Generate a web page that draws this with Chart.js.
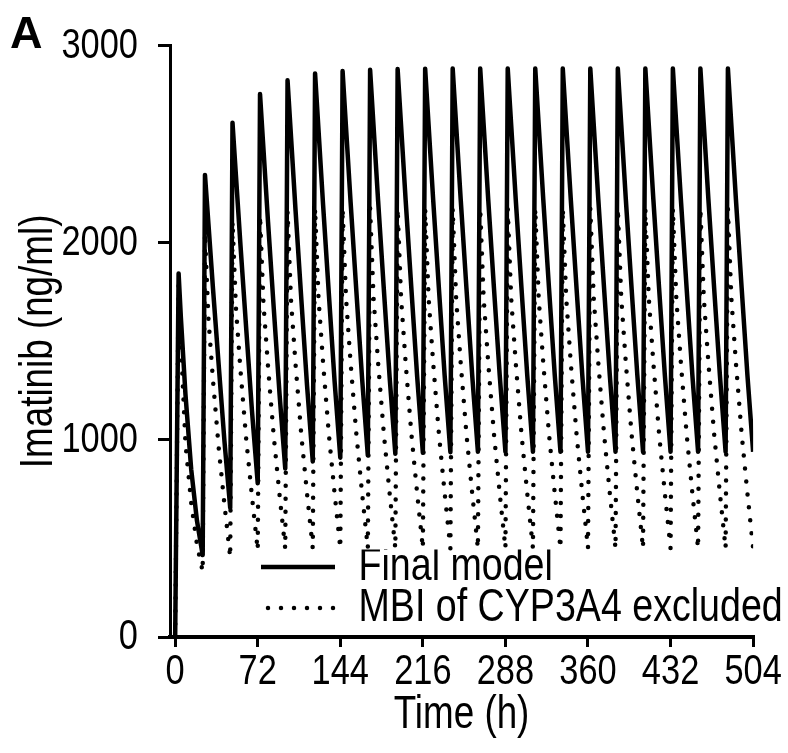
<!DOCTYPE html>
<html>
<head>
<meta charset="utf-8">
<script src="https://cdn.jsdelivr.net/npm/chart.js@4/dist/chart.umd.min.js"></script>
<style>
  html, body { margin: 0; padding: 0; background: #fff; }
  #wrap { width: 788px; height: 753px; position: relative; }
</style>
</head>
<body>
<div id="wrap"><canvas id="c" width="788" height="753"></canvas></div>
<script>
// ---- data ----
const panelLabel = 'A';
const xTitle = 'Time (h)';
const yTitle = 'Imatinib (ng/ml)';
const seriesNames = ['Final model', 'MBI of CYP3A4 excluded'];
const xTickValues = [0, 72, 144, 216, 288, 360, 432, 504];
const yTickValues = [0, 1000, 2000, 3000];

const times = [
  0, 3, 5, 9, 14, 19,
  24, 26, 29, 33, 38, 43,
  48, 50, 53, 57, 62, 67,
  72, 74, 77, 81, 86, 91,
  96, 98, 101, 105, 110, 115,
  120, 122, 125, 129, 134, 139,
  144, 146, 149, 153, 158, 163,
  168, 170, 173, 177, 182, 187,
  192, 194, 197, 201, 206, 211,
  216, 218, 221, 225, 230, 235,
  240, 242, 245, 249, 254, 259,
  264, 266, 269, 273, 278, 283,
  288, 290, 293, 297, 302, 307,
  312, 314, 317, 321, 326, 331,
  336, 338, 341, 345, 350, 355,
  360, 362, 365, 369, 374, 379,
  384, 386, 389, 393, 398, 403,
  408, 410, 413, 417, 422, 427,
  432, 434, 437, 441, 446, 451,
  456, 458, 461, 465, 470, 475,
  480, 482, 485, 489, 494, 499,
  504
];

const finalModel = [
  0, 1845, 1620, 1230, 850, 590,
  416, 2345, 2097, 1767, 1377, 993,
  655, 2610, 2341, 1984, 1561, 1146,
  780, 2755, 2476, 2105, 1666, 1235,
  855, 2825, 2541, 2163, 1716, 1277,
  890, 2860, 2573, 2193, 1743, 1300,
  910, 2872, 2585, 2205, 1755, 1312,
  922, 2878, 2592, 2212, 1762, 1320,
  930, 2882, 2596, 2216, 1766, 1324,
  935, 2884, 2598, 2218, 1768, 1327,
  938, 2885, 2600, 2220, 1770, 1330,
  940, 2885, 2600, 2220, 1770, 1330,
  940, 2885, 2600, 2220, 1770, 1330,
  940, 2885, 2600, 2220, 1770, 1330,
  940, 2885, 2600, 2220, 1770, 1330,
  940, 2885, 2600, 2220, 1770, 1330,
  940, 2885, 2600, 2220, 1770, 1330,
  940, 2885, 2600, 2220, 1770, 1330,
  940, 2885, 2600, 2220, 1770, 1330,
  940, 2885, 2600, 2220, 1770, 1330,
  940, 2885, 2600, 2220, 1770, 1330,
  940
];

const mbiExcluded = [
  0, 1790, 1500, 980, 680, 470,
  332, 2050, 1616, 1302, 958, 671,
  405, 2110, 1669, 1350, 1001, 711,
  440, 2140, 1693, 1370, 1017, 722,
  448, 2160, 1709, 1382, 1025, 727,
  450, 2175, 1720, 1390, 1030, 730,
  450, 2175, 1720, 1390, 1030, 730,
  450, 2175, 1720, 1390, 1030, 730,
  450, 2175, 1720, 1390, 1030, 730,
  450, 2175, 1720, 1390, 1030, 730,
  450, 2175, 1720, 1390, 1030, 730,
  450, 2175, 1720, 1390, 1030, 730,
  450, 2175, 1720, 1390, 1030, 730,
  450, 2175, 1720, 1390, 1030, 730,
  450, 2175, 1720, 1390, 1030, 730,
  450, 2175, 1720, 1390, 1030, 730,
  450, 2175, 1720, 1390, 1030, 730,
  450, 2175, 1720, 1390, 1030, 730,
  450, 2175, 1720, 1390, 1030, 730,
  450, 2175, 1720, 1390, 1030, 730,
  450, 2175, 1720, 1390, 1030, 730,
  450
];

// ---- styling / layout ----
const FONT = "'Liberation Sans', Arial, sans-serif";
const NARROW = 0.8;   // reference uses a condensed (Arial Narrow-like) face
const AREA_LEFT = 170, AREA_TOP = 32, AREA_RIGHT = 755, AREA_BOTTOM = 637;
const W = 788, H = 753;

const pts = (ys) => times.map((t, i) => ({ x: t, y: ys[i] }));
const nativeFillText = CanvasRenderingContext2D.prototype.fillText;

// emulate a condensed font: every label is drawn horizontally compressed
const condensePlugin = {
  id: 'condense',
  beforeInit(chart) {
    const ctx = chart.ctx;
    ctx.fillText = function (text, x, y, maxWidth) {
      const w = this.measureText(text).width * NARROW;
      const mw = (maxWidth !== undefined && maxWidth !== null) ? Math.min(maxWidth, w) : w;
      return nativeFillText.call(this, text, x, y, mw);
    };
  }
};

const panelLabelPlugin = {
  id: 'panelLabel',
  afterDraw(chart) {
    const ctx = chart.ctx;
    ctx.save();
    ctx.font = "bold 45px 'Liberation Sans', Arial, sans-serif";
    ctx.fillStyle = '#000';
    ctx.textBaseline = 'middle';
    ctx.textAlign = 'left';
    nativeFillText.call(ctx, panelLabel, 10, 36);
    ctx.restore();
  }
};

const LEG_FONT = 47;
const LEG_PAD = -6;
const legendPlacer = {
  id: 'legendPlacer',
  afterLayout(chart) {
    const lg = chart.legend;
    if (!lg) return;
    const left = 255 - LEG_PAD, top = 567 - LEG_FONT / 2 - LEG_PAD;
    lg.left = left; lg.top = top;
    lg.right = left + 520; lg.bottom = top + 120;
  }
};

new Chart(document.getElementById('c'), {
  type: 'line',
  data: {
    datasets: [
      {
        label: seriesNames[0],
        data: pts(finalModel),
        borderColor: '#000',
        backgroundColor: '#000',
        borderWidth: 4.5,
        pointRadius: 0,
        tension: 0,
        borderJoinStyle: 'round',
        borderCapStyle: 'butt',
        order: 0
      },
      {
        label: seriesNames[1],
        data: pts(mbiExcluded),
        borderColor: '#000',
        backgroundColor: '#000',
        borderWidth: 4.5,
        borderDash: [0, 13],
        borderCapStyle: 'round',
        pointRadius: 0,
        tension: 0,
        order: 1
      }
    ]
  },
  options: {
    responsive: false,
    animation: false,
    events: [],
    layout: { padding: { left: 0, top: AREA_TOP, right: W - AREA_RIGHT, bottom: 0 } },
    plugins: {
      tooltip: { enabled: false },
      title: { display: false },
      legend: {
        display: true,
        position: 'chartArea',
        align: 'start',
        labels: {
          usePointStyle: true,
          pointStyle: 'line',
          pointStyleWidth: 80,
          color: '#000',
          padding: LEG_PAD,
          font: { family: FONT, size: LEG_FONT },
          generateLabels(chart) {
            const items = Chart.defaults.plugins.legend.labels.generateLabels(chart);
            items.forEach(it => {
              const ds = chart.data.datasets[it.datasetIndex];
              it.lineDash = ds.borderDash || [];
              it.lineCap = ds.borderCapStyle || 'butt';
              it.lineWidth = ds.borderWidth;
              it.strokeStyle = ds.borderColor;
            });
            return items;
          }
        }
      }
    },
    scales: {
      x: {
        type: 'linear',
        min: -4.5,
        max: 504,
        afterBuildTicks: (s) => { s.ticks = xTickValues.map(v => ({ value: v })); },
        afterFit: (s) => { s.height = H - AREA_BOTTOM; },
        ticks: {
          color: '#000',
          padding: -1,
          maxRotation: 0,
          autoSkip: false,
          font: { family: FONT, size: 43 },
          callback: (v) => String(v)
        },
        grid: {
          display: true,
          drawOnChartArea: false,
          drawTicks: true,
          tickLength: 10,
          color: '#000',
          lineWidth: 3
        },
        border: { display: true, color: '#000', width: 4 },
        title: {
          display: true,
          text: xTitle,
          color: '#000',
          font: { family: FONT, size: 46 },
          padding: { top: 0, bottom: 10 }
        }
      },
      y: {
        type: 'linear',
        min: 0,
        max: 3000,
        afterBuildTicks: (s) => { s.ticks = yTickValues.map(v => ({ value: v })); },
        afterFit: (s) => { s.width = AREA_LEFT; },
        ticks: {
          color: '#000',
          padding: 20,
          font: { family: FONT, size: 43 },
          callback: (v) => String(v)
        },
        grid: {
          display: true,
          drawOnChartArea: false,
          drawTicks: true,
          tickLength: 12,
          color: '#000',
          lineWidth: 3
        },
        border: { display: true, color: '#000', width: 3 },
        title: {
          display: true,
          text: yTitle,
          color: '#000',
          font: { family: FONT, size: 46 },
          padding: { top: 12, bottom: 0 }
        }
      }
    }
  },
  plugins: [condensePlugin, panelLabelPlugin, legendPlacer]
});
</script>
</body>
</html>
